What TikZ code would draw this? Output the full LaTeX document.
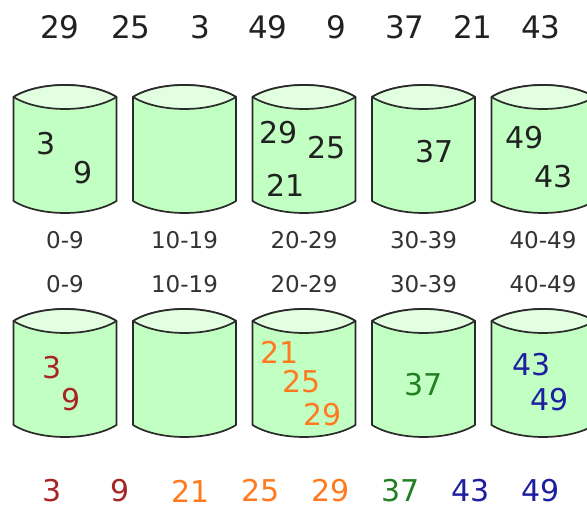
\documentclass[tikz,border=0pt]{standalone}
\usepackage{fontspec}
\setmainfont{DejaVu Sans}
\usepackage{tikz}

\definecolor{edge}{HTML}{2A2A2A}
\definecolor{body}{HTML}{C2FFC2}
\definecolor{lid}{HTML}{E2FFE2}
\definecolor{redn}{HTML}{A82424}
\definecolor{orangen}{HTML}{FF7A1F}
\definecolor{greenn}{HTML}{237F23}
\definecolor{bluen}{HTML}{1E1EA0}

\begin{document}
\begin{tikzpicture}[
  x=1pt, y=-1pt,
  num/.style={inner sep=0pt, text=black!87, font=\fontsize{31}{36}\selectfont},
  inb/.style={inner sep=0pt, text=black!87, font=\fontsize{30}{36}\selectfont},
  rng/.style={inner sep=0pt, text=black!80, font=\fontsize{23}{28}\selectfont},
  bucket/.pic={
    \path[draw=edge, fill=body, line width=1.7pt, line join=round]
      (-51.5,0) -- (-51.5,104) .. controls (-25.75,120) and (25.75,120) .. (51.5,104)
      -- (51.5,0) .. controls (25.75,-16) and (-25.75,-16) .. cycle;
    \path[draw=edge, fill=lid, line width=1.7pt, line join=round]
      (-51.5,0) .. controls (-25.75,-16) and (25.75,-16) .. (51.5,0)
      .. controls (25.75,16) and (-25.75,16) .. cycle;
  },
]
\clip (0,0) rectangle (587,510);
\fill[white] (0,0) rectangle (587,510);

% input
\node[num] (t29) at (60,27)  {29};
\node[num] (t25) at (131,27) {25};
\node[num] (t3)  at (200,27) {3};
\node[num] (t49) at (268,27) {49};
\node[num] (t9)  at (336,27) {9};
\node[num] (t37) at (405,27) {37};
\node[num] (t21) at (473,27) {21};
\node[num] (t43) at (541,27) {43};

% scatter
\pic at (65,97)    {bucket};
\pic at (184.5,97) {bucket};
\pic at (304,97)   {bucket};
\pic at (423.5,97) {bucket};
\pic at (543,97)   {bucket};

\node[inb] (b3)  at (46,144)  {3};
\node[inb] (b9)  at (83,173)  {9};
\node[inb] (b29) at (279,133) {29};
\node[inb] (b25) at (327,148) {25};
\node[inb] (b21) at (286,185) {21};
\node[inb] (b37) at (435,152) {37};
\node[inb] (b49) at (525,138) {49};
\node[inb] (b43) at (554,177) {43};

\node[rng] (ra1) at (65,240)    {0-9};
\node[rng] (ra2) at (184.5,240) {10-19};
\node[rng] (ra3) at (304,240)   {20-29};
\node[rng] (ra4) at (423.5,240) {30-39};
\node[rng] (ra5) at (543,240)   {40-49};

\node[rng] (rb1) at (65,284)    {0-9};
\node[rng] (rb2) at (184.5,284) {10-19};
\node[rng] (rb3) at (304,284)   {20-29};
\node[rng] (rb4) at (423.5,284) {30-39};
\node[rng] (rb5) at (543,284)   {40-49};

% sort each bucket
\pic at (65,321)    {bucket};
\pic at (184.5,321) {bucket};
\pic at (304,321)   {bucket};
\pic at (423.5,321) {bucket};
\pic at (543,321)   {bucket};

\node[inb, text=redn]    (s3)  at (52,368)  {3};
\node[inb, text=redn]    (s9)  at (71,400)  {9};
\node[inb, text=orangen] (s21) at (280,352) {21};
\node[inb, text=orangen] (s25) at (302,382) {25};
\node[inb, text=orangen] (s29) at (323,415) {29};
\node[inb, text=greenn]  (s37) at (424,385) {37};
\node[inb, text=bluen]   (s43) at (532,365) {43};
\node[inb, text=bluen]   (s49) at (550,400) {49};

% gather
\node[inb, text=redn]    (r3)  at (52,491)  {3};
\node[inb, text=redn]    (r9)  at (120,491) {9};
\node[inb, text=orangen] (r21) at (191,491) {21};
\node[inb, text=orangen] (r25) at (261,491) {25};
\node[inb, text=orangen] (r29) at (331,491) {29};
\node[inb, text=greenn]  (r37) at (401,491) {37};
\node[inb, text=bluen]   (r43) at (471,491) {43};
\node[inb, text=bluen]   (r49) at (541,491) {49};

\end{tikzpicture}
\end{document}
